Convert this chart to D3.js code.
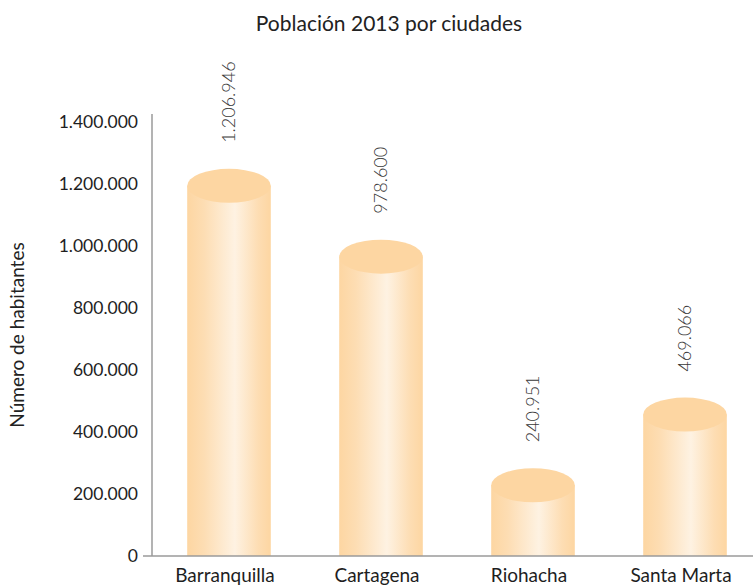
<!DOCTYPE html>
<html>
<head>
<meta charset="utf-8">
<script src="https://cdn.jsdelivr.net/npm/d3@7"></script>
<style>
  html, body { margin: 0; padding: 0; background: #fff; }
  svg { display: block; font-family: Lato, "Open Sans", "DejaVu Sans", sans-serif; }
</style>
</head>
<body>
<svg id="chart" width="753" height="587"></svg>
<script>
const categories = ["Barranquilla", "Cartagena", "Riohacha", "Santa Marta"];
const values = [1206946, 978600, 240951, 469066];
const valueLabels = ["1.206.946", "978.600", "240.951", "469.066"];
const tickValues = [0, 200000, 400000, 600000, 800000, 1000000, 1200000, 1400000];
const title = "Población 2013 por ciudades";
const yTitle = "Número de habitantes";

const svg = d3.select("#chart");
const W = 753, H = 587;
const axisX = 152, axisY = 556, axisTop = 114;

const locale = d3.formatLocale({ thousands: ".", grouping: [3], decimal: ",", currency: ["$", ""] });
const fmt = locale.format(",d");

const y = d3.scaleLinear().domain([0, 1400000]).range([axisY, 122]);
const x = d3.scalePoint().domain(categories).range([axisX + 1, 761]).padding(0.5);
const barW = x.step() * 0.55;
const ry = 17;

// gradient
const defs = svg.append("defs");
const grad = defs.append("linearGradient").attr("id", "cyl").attr("x1", "0%").attr("x2", "100%").attr("y1", "0%").attr("y2", "0%");
[["0%", "#fdd6a2"], ["20%", "#fdddb3"], ["57%", "#fef2e2"], ["85%", "#fdddb3"], ["100%", "#fdd6a2"]].forEach(([o, c]) =>
  grad.append("stop").attr("offset", o).attr("stop-color", c));

// title
svg.append("text").attr("x", 389).attr("y", 31).attr("text-anchor", "middle")
  .attr("font-size", 21).attr("fill", "#222").text(title);

// y axis title
svg.append("text").attr("transform", `translate(24,335) rotate(-90)`).attr("text-anchor", "middle")
  .attr("font-size", 19).attr("fill", "#222").text(yTitle);

// y axis ticks
const yAxis = d3.axisLeft(y).tickValues(tickValues).tickFormat(fmt).tickSizeInner(0).tickSizeOuter(0).tickPadding(14);
const gY = svg.append("g").attr("transform", `translate(${axisX},0)`).call(yAxis);
gY.select(".domain").remove();
gY.selectAll("text").attr("font-size", 17.5).attr("fill", "#1e1e1e").attr("font-family", "Lato, 'Open Sans', sans-serif");

// bars
const bars = svg.append("g");
categories.forEach((c, i) => {
  const cx = x(c);
  const top = y(values[i]) + 4;
  bars.append("rect").attr("x", cx - barW / 2).attr("y", top).attr("width", barW).attr("height", axisY - top)
    .attr("fill", "url(#cyl)");
  bars.append("ellipse").attr("cx", cx).attr("cy", top).attr("rx", barW / 2).attr("ry", ry)
    .attr("fill", "#fdd6a2");
  svg.append("text").attr("transform", `translate(${cx},${y(values[i]) - 39}) rotate(-90)`)
    .attr("dy", "0.36em").attr("text-anchor", "start")
    .attr("font-size", 18).attr("font-weight", 300).attr("fill", "#3a3a3a").text(valueLabels[i]);
});

// axis lines
svg.append("line").attr("x1", axisX).attr("x2", axisX).attr("y1", axisTop).attr("y2", axisY)
  .attr("stroke", "#9a9a9a").attr("stroke-width", 1.5);
svg.append("line").attr("x1", axisX - 9).attr("x2", W).attr("y1", axisY).attr("y2", axisY)
  .attr("stroke", "#9a9a9a").attr("stroke-width", 1.5);

// category labels
categories.forEach(c => {
  svg.append("text").attr("x", x(c) - 4).attr("y", 582).attr("text-anchor", "middle")
    .attr("font-size", 19).attr("fill", "#1e1e1e").text(c);
});
</script>
</body>
</html>
